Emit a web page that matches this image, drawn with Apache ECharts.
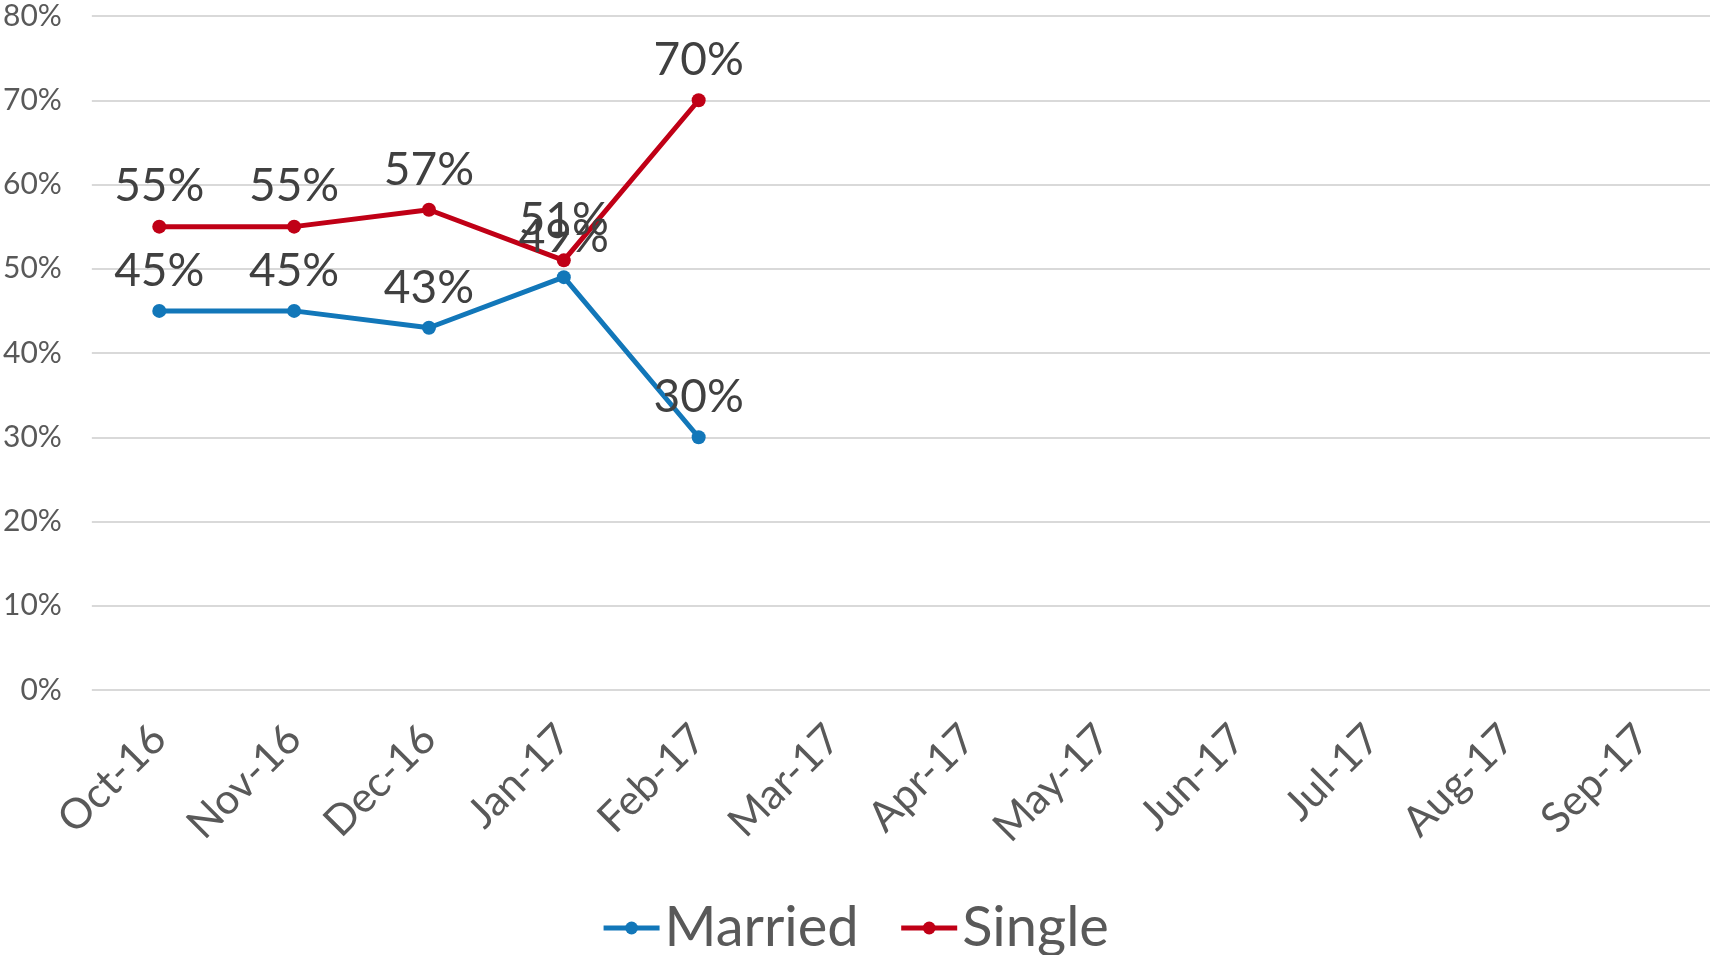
<!DOCTYPE html>
<html>
<head>
<meta charset="utf-8">
<script src="https://cdn.jsdelivr.net/npm/echarts@6/dist/echarts.min.js"></script>
<style>
  html, body { margin: 0; padding: 0; background: #fff; }
  #main { width: 1710px; height: 955px; }
</style>
</head>
<body>
<div id="main"></div>
<script>
var months = ['Oct-16', 'Nov-16', 'Dec-16', 'Jan-17', 'Feb-17', 'Mar-17',
  'Apr-17', 'May-17', 'Jun-17', 'Jul-17', 'Aug-17', 'Sep-17'];
var married = [45, 45, 43, 49, 30];
var single = [55, 55, 57, 51, 70];

var font = 'Lato, "Open Sans", sans-serif';
var myChart = echarts.init(document.getElementById('main'));

var labelStyle = {
  show: true,
  position: 'top',
  distance: 10,
  fontFamily: font,
  fontSize: 46,
  color: '#404040',
  formatter: function (p) { return p.value + '%'; }
};

var option = {
  animation: false,
  textStyle: { fontFamily: font },
  grid: {
    left: 91,
    right: 0,
    top: 16,
    bottom: 265
  },
  legend: {
    bottom: -6,
    left: 'center',
    itemWidth: 56,
    itemHeight: 16,
    itemGap: 40,
    lineStyle: { width: 5 },
    textStyle: { fontSize: 56, color: '#595959', fontFamily: font },
    data: ['Married', 'Single']
  },
  xAxis: {
    type: 'category',
    data: months,
    boundaryGap: true,
    axisLine: { show: false },
    axisTick: { show: false },
    axisLabel: {
      rotate: 45,
      margin: 42,
      fontSize: 42,
      color: '#595959',
      fontFamily: font
    }
  },
  yAxis: {
    type: 'value',
    min: 0,
    max: 80,
    interval: 10,
    axisLine: { show: false },
    axisTick: { show: false },
    splitLine: { lineStyle: { color: '#d9d9d9', width: 2 } },
    axisLabel: {
      margin: 30,
      fontSize: 30,
      color: '#595959',
      fontFamily: font,
      formatter: '{value}%'
    }
  },
  series: [{
    name: 'Married',
    type: 'line',
    data: married,
    symbol: 'circle',
    symbolSize: 14,
    itemStyle: { color: '#1277b9' },
    lineStyle: { width: 5, color: '#1277b9' },
    label: labelStyle
  }, {
    name: 'Single',
    type: 'line',
    data: single,
    symbol: 'circle',
    symbolSize: 14,
    itemStyle: { color: '#c00016' },
    lineStyle: { width: 5, color: '#c00016' },
    label: labelStyle
  }]
};

myChart.setOption(option);
</script>
</body>
</html>
